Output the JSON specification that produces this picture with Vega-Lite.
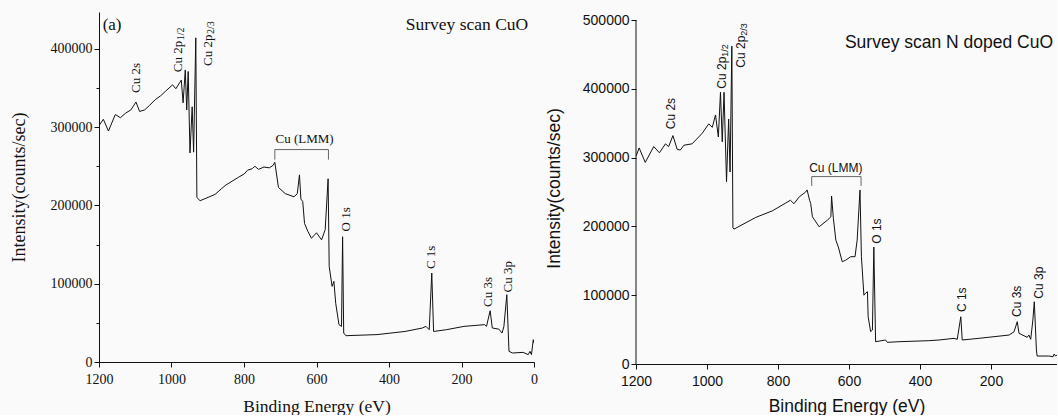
{
  "$schema": "https://vega.github.io/schema/vega-lite/v6.json",
  "background": "#fafafa",
  "padding": {"left": 10, "top": 12, "right": 0, "bottom": 0},
  "bounds": "flush",
  "spacing": 102,
  "config": {"view": {"stroke": null}},
  "datasets": {
    "cuo": [
      {"E":1200,"I":302000},{"E":1188,"I":310000},{"E":1174,"I":295000},{"E":1155,"I":316000},{"E":1141,"I":312000},{"E":1126,"I":318000},{"E":1112,"I":322000},{"E":1098,"I":332000},{"E":1088,"I":320000},{"E":1074,"I":322000},{"E":1060,"I":328000},{"E":1045,"I":335000},{"E":1030,"I":340000},{"E":1016,"I":346000},{"E":997,"I":354000},{"E":988,"I":349000},{"E":973,"I":360000},{"E":968,"I":331000},{"E":962,"I":373000},{"E":958,"I":322000},{"E":954,"I":371000},{"E":949,"I":267000},{"E":943,"I":326000},{"E":939,"I":268000},{"E":933,"I":414000},{"E":930,"I":210000},{"E":921,"I":206000},{"E":880,"I":214000},{"E":863,"I":221000},{"E":850,"I":226000},{"E":815,"I":236000},{"E":800,"I":240000},{"E":790,"I":245000},{"E":777,"I":247000},{"E":770,"I":250000},{"E":760,"I":246000},{"E":745,"I":249000},{"E":730,"I":248000},{"E":720,"I":251000},{"E":715,"I":255000},{"E":705,"I":223000},{"E":686,"I":215000},{"E":662,"I":211000},{"E":653,"I":215000},{"E":647,"I":239000},{"E":643,"I":208000},{"E":638,"I":205000},{"E":633,"I":177000},{"E":624,"I":167000},{"E":614,"I":158000},{"E":600,"I":165000},{"E":586,"I":156000},{"E":576,"I":169000},{"E":568,"I":234000},{"E":565,"I":122000},{"E":557,"I":96600},{"E":552,"I":103000},{"E":547,"I":75000},{"E":538,"I":47700},{"E":531,"I":45500},{"E":528,"I":160000},{"E":525,"I":37000},{"E":519,"I":33600},{"E":433,"I":35000},{"E":356,"I":39000},{"E":308,"I":43400},{"E":298,"I":45500},{"E":289,"I":41300},{"E":282,"I":113600},{"E":277,"I":39000},{"E":241,"I":41300},{"E":193,"I":45500},{"E":136,"I":47700},{"E":131,"I":45500},{"E":121,"I":65500},{"E":115,"I":43400},{"E":97,"I":42000},{"E":88,"I":37000},{"E":83,"I":45500},{"E":75,"I":86000},{"E":69,"I":13600},{"E":59,"I":11500},{"E":30,"I":12300},{"E":16,"I":9400},{"E":11,"I":13600},{"E":7,"I":9400},{"E":2,"I":28500},{"E":0,"I":24000}
    ],
    "ncuo": [
      {"E":1200,"I":302000},{"E":1191,"I":314000},{"E":1174,"I":293000},{"E":1150,"I":316000},{"E":1134,"I":307000},{"E":1117,"I":320000},{"E":1108,"I":316000},{"E":1096,"I":332000},{"E":1084,"I":312000},{"E":1075,"I":311000},{"E":1065,"I":318000},{"E":1042,"I":320000},{"E":1014,"I":335000},{"E":995,"I":349000},{"E":985,"I":344000},{"E":976,"I":362000},{"E":968,"I":330000},{"E":962,"I":395000},{"E":957,"I":323000},{"E":952,"I":395000},{"E":945,"I":265000},{"E":939,"I":356000},{"E":935,"I":279000},{"E":930,"I":462000},{"E":927,"I":198000},{"E":924,"I":196000},{"E":863,"I":213000},{"E":816,"I":222600},{"E":778,"I":234000},{"E":765,"I":238000},{"E":755,"I":233000},{"E":740,"I":243000},{"E":722,"I":250000},{"E":718,"I":253000},{"E":711,"I":238000},{"E":708,"I":233500},{"E":703,"I":214000},{"E":684,"I":199500},{"E":661,"I":209000},{"E":651,"I":214000},{"E":649,"I":244000},{"E":644,"I":211700},{"E":637,"I":180000},{"E":630,"I":170000},{"E":619,"I":148600},{"E":609,"I":151000},{"E":595,"I":156000},{"E":583,"I":156000},{"E":577,"I":180000},{"E":569,"I":252800},{"E":565,"I":156000},{"E":558,"I":100000},{"E":553,"I":103000},{"E":548,"I":105000},{"E":546,"I":68700},{"E":539,"I":47000},{"E":534,"I":49400},{"E":530,"I":170000},{"E":525,"I":32400},{"E":497,"I":34900},{"E":492,"I":31500},{"E":459,"I":32400},{"E":375,"I":33900},{"E":346,"I":34900},{"E":304,"I":37300},{"E":295,"I":35900},{"E":285,"I":68700},{"E":281,"I":34900},{"E":234,"I":37300},{"E":149,"I":42100},{"E":135,"I":46900},{"E":126,"I":61500},{"E":121,"I":44600},{"E":98,"I":38800},{"E":93,"I":42100},{"E":88,"I":35900},{"E":82,"I":63900},{"E":78,"I":90500},{"E":72,"I":20300},{"E":70,"I":11600},{"E":37,"I":11600},{"E":25,"I":10600},{"E":22,"I":14500},{"E":18,"I":11600},{"E":14,"I":13000}
    ],
    "labL": [
      {"E":1098,"I":343500,"text":"Cu 2s"},
      {"E":983,"I":370000,"text":"Cu 2p"},
      {"E":900,"I":378000,"text":"Cu 2p"},
      {"E":520,"I":166800,"text":"O 1s"},
      {"E":284,"I":118700,"text":"C 1s"},
      {"E":126,"I":70200,"text":"Cu 3s"},
      {"E":71,"I":88900,"text":"Cu 3p"}
    ],
    "subL": [
      {"E":983,"I":370000,"text":"1/2"},
      {"E":900,"I":378000,"text":"2/3"}
    ],
    "labR": [
      {"E":1100,"I":341200,"text":"Cu 2s"},
      {"E":959,"I":400200,"text":"Cu 2p"},
      {"E":903,"I":430700,"text":"Cu 2p"},
      {"E":522,"I":174800,"text":"O 1s"},
      {"E":282,"I":75500,"text":"C 1s"},
      {"E":126,"I":68300,"text":"Cu 3s"},
      {"E":65,"I":94900,"text":"Cu 3p"}
    ],
    "subR": [
      {"E":959,"I":400200,"text":"1/2"},
      {"E":903,"I":430700,"text":"2/3"}
    ],
    "brL": [
      {"E":715,"E2":567,"I":271300,"I2":271300},
      {"E":715,"E2":715,"I":271300,"I2":258500},
      {"E":567,"E2":567,"I":271300,"I2":258500}
    ],
    "brR": [
      {"E":705,"E2":566,"I":272400,"I2":272400},
      {"E":705,"E2":705,"I":272400,"I2":258800},
      {"E":566,"E2":566,"I":272400,"I2":258800}
    ],
    "axR": [
      {"E":1200,"I":0,"I2":500000}
    ],
    "lmmL": [{"E":633,"I":285000,"text":"Cu (LMM)"}],
    "aL": [{"E":1190,"I":431000,"text":"(a)"}],
    "tL": [{"E":16,"I":431000,"text":"Survey scan CuO"}],
    "lmmR": [{"E":637,"I":285500,"text":"Cu (LMM)"}],
    "tR": [{"E":25,"I":467000,"text":"Survey scan N doped CuO"}]
  },
  "hconcat": [
    {
      "width": 435,
      "height": 350,
      "layer": [
        {
          "data": {"name": "cuo"},
          "mark": {"type": "line", "color": "#111", "strokeWidth": 1, "clip": true},
          "encoding": {
            "x": {"field": "E", "type": "quantitative",
              "scale": {"domain": [1200, 0], "nice": false, "zero": false},
              "axis": {"title": "Binding Energy (eV)", "values": [1200,1100,1000,900,800,700,600,500,400,300,200,100,0],
                "labelExpr": "datum.value % 200 === 0 ? datum.label : ''", "format": "d",
                "tickSize": {"condition": {"test": "datum.value % 200 === 0", "value": 5}, "value": 3},
                "grid": false, "labelFlush": false, "labelOverlap": false,
                "labelFont": "Liberation Serif", "labelFontSize": 14, "labelColor": "#111", "labelPadding": 5,
                "titleFont": "Liberation Serif", "titleFontSize": 17.5, "titleFontWeight": "normal", "titleColor": "#111", "titlePadding": 11,
                "domainColor": "#111", "tickColor": "#111"}},
            "y": {"field": "I", "type": "quantitative",
              "scale": {"domain": [0, 447000], "nice": false},
              "axis": {"title": "Intensity(counts/sec)", "values": [0,50000,100000,150000,200000,250000,300000,350000,400000],
                "labelExpr": "datum.value % 100000 === 0 ? datum.label : ''", "format": "d",
                "tickSize": {"condition": {"test": "datum.value % 100000 === 0", "value": 5}, "value": 3},
                "grid": false, "labelFlush": false, "labelOverlap": false,
                "labelFont": "Liberation Serif", "labelFontSize": 14, "labelColor": "#111", "labelPadding": 2,
                "titleFont": "Liberation Serif", "titleFontSize": 18, "titleFontWeight": "normal", "titleColor": "#111", "titlePadding": 22,
                "domainColor": "#111", "tickColor": "#111"}}
          }
        },
        {
          "mark": {"type": "rule", "color": "#111"},
          "encoding": {"x": {"datum": 0}}
        },
        {
          "data": {"name": "brL"},
          "mark": {"type": "rule", "color": "#666", "strokeWidth": 1},
          "encoding": {
            "x": {"field": "E", "type": "quantitative"}, "x2": {"field": "E2"},
            "y": {"field": "I", "type": "quantitative"}, "y2": {"field": "I2"}
          }
        },
        {
          "data": {"name": "labL"},
          "mark": {"type": "text", "angle": 270, "align": "left", "baseline": "middle", "font": "Liberation Serif", "fontSize": 13, "color": "#111"},
          "encoding": {
            "x": {"field": "E", "type": "quantitative"},
            "y": {"field": "I", "type": "quantitative"},
            "text": {"field": "text"}
          }
        },
        {
          "data": {"name": "subL"},
          "mark": {"type": "text", "angle": 270, "align": "left", "baseline": "middle", "font": "Liberation Serif", "fontSize": 10, "color": "#111", "dx": 32, "dy": 3},
          "encoding": {
            "x": {"field": "E", "type": "quantitative"},
            "y": {"field": "I", "type": "quantitative"},
            "text": {"field": "text"}
          }
        },
        {
          "data": {"name": "lmmL"},
          "mark": {"type": "text", "font": "Liberation Serif", "fontSize": 13, "color": "#111", "align": "center", "baseline": "middle"},
          "encoding": {
            "x": {"field": "E", "type": "quantitative"},
            "y": {"field": "I", "type": "quantitative"},
            "text": {"field": "text"}
          }
        },
        {
          "data": {"name": "aL"},
          "mark": {"type": "text", "font": "Liberation Serif", "fontSize": 17, "color": "#111", "align": "left", "baseline": "middle"},
          "encoding": {
            "x": {"field": "E", "type": "quantitative"},
            "y": {"field": "I", "type": "quantitative"},
            "text": {"field": "text"}
          }
        },
        {
          "data": {"name": "tL"},
          "mark": {"type": "text", "font": "Liberation Serif", "fontSize": 17.5, "color": "#111", "align": "right", "baseline": "middle"},
          "encoding": {
            "x": {"field": "E", "type": "quantitative"},
            "y": {"field": "I", "type": "quantitative"},
            "text": {"field": "text"}
          }
        }
      ]
    },
    {
      "width": 421,
      "height": 352,
      "layer": [
        {
          "data": {"name": "ncuo"},
          "mark": {"type": "line", "color": "#111", "strokeWidth": 1, "clip": true},
          "encoding": {
            "x": {"field": "E", "type": "quantitative",
              "scale": {"domain": [1200, 14], "nice": false, "zero": false},
              "axis": {"title": "Binding Energy (eV)", "values": [1200,1100,1000,900,800,700,600,500,400,300,200,100],
                "labelExpr": "datum.value % 200 === 0 ? datum.label : ''", "format": "d",
                "tickSize": {"condition": {"test": "datum.value % 200 === 0", "value": 5}, "value": 3},
                "grid": false, "labelFlush": false, "labelOverlap": false,
                "labelFont": "Liberation Sans", "labelFontSize": 14, "labelColor": "#111", "labelPadding": 5,
                "titleFont": "Liberation Sans", "titleFontSize": 17.5, "titleFontWeight": "normal", "titleColor": "#111", "titlePadding": 9,
                "domainColor": "#111", "tickColor": "#111"}},
            "y": {"field": "I", "type": "quantitative",
              "scale": {"domain": [0, 511628], "nice": false},
              "axis": {"title": "Intensity(counts/sec)", "values": [0,50000,100000,150000,200000,250000,300000,350000,400000,450000,500000],
                "labelExpr": "datum.value % 100000 === 0 ? datum.label : ''", "format": "d",
                "tickSize": {"condition": {"test": "datum.value % 100000 === 0", "value": 5}, "value": 3},
                "grid": false, "labelFlush": false, "labelOverlap": false, "domain": false,
                "labelFont": "Liberation Sans", "labelFontSize": 14, "labelColor": "#111", "labelPadding": 2,
                "titleFont": "Liberation Sans", "titleFontSize": 17.5, "titleFontWeight": "normal", "titleColor": "#111", "titlePadding": 19,
                "tickColor": "#111"}}
          }
        },
        {
          "mark": {"type": "rule", "color": "#111"},
          "encoding": {"y": {"datum": 500000}}
        },
        {
          "data": {"name": "axR"},
          "mark": {"type": "rule", "color": "#111"},
          "encoding": {
            "x": {"field": "E", "type": "quantitative"},
            "y": {"field": "I", "type": "quantitative"}, "y2": {"field": "I2"}
          }
        },
        {
          "data": {"name": "brR"},
          "mark": {"type": "rule", "color": "#666", "strokeWidth": 1},
          "encoding": {
            "x": {"field": "E", "type": "quantitative"}, "x2": {"field": "E2"},
            "y": {"field": "I", "type": "quantitative"}, "y2": {"field": "I2"}
          }
        },
        {
          "data": {"name": "labR"},
          "mark": {"type": "text", "angle": 270, "align": "left", "baseline": "middle", "font": "Liberation Sans", "fontSize": 12, "color": "#111"},
          "encoding": {
            "x": {"field": "E", "type": "quantitative"},
            "y": {"field": "I", "type": "quantitative"},
            "text": {"field": "text"}
          }
        },
        {
          "data": {"name": "subR"},
          "mark": {"type": "text", "angle": 270, "align": "left", "baseline": "middle", "font": "Liberation Sans", "fontSize": 9, "color": "#111", "dx": 32, "dy": 3},
          "encoding": {
            "x": {"field": "E", "type": "quantitative"},
            "y": {"field": "I", "type": "quantitative"},
            "text": {"field": "text"}
          }
        },
        {
          "data": {"name": "lmmR"},
          "mark": {"type": "text", "font": "Liberation Sans", "fontSize": 12, "color": "#111", "align": "center", "baseline": "middle"},
          "encoding": {
            "x": {"field": "E", "type": "quantitative"},
            "y": {"field": "I", "type": "quantitative"},
            "text": {"field": "text"}
          }
        },
        {
          "data": {"name": "tR"},
          "mark": {"type": "text", "font": "Liberation Sans", "fontSize": 17.5, "color": "#111", "align": "right", "baseline": "middle"},
          "encoding": {
            "x": {"field": "E", "type": "quantitative"},
            "y": {"field": "I", "type": "quantitative"},
            "text": {"field": "text"}
          }
        }
      ]
    }
  ]
}
